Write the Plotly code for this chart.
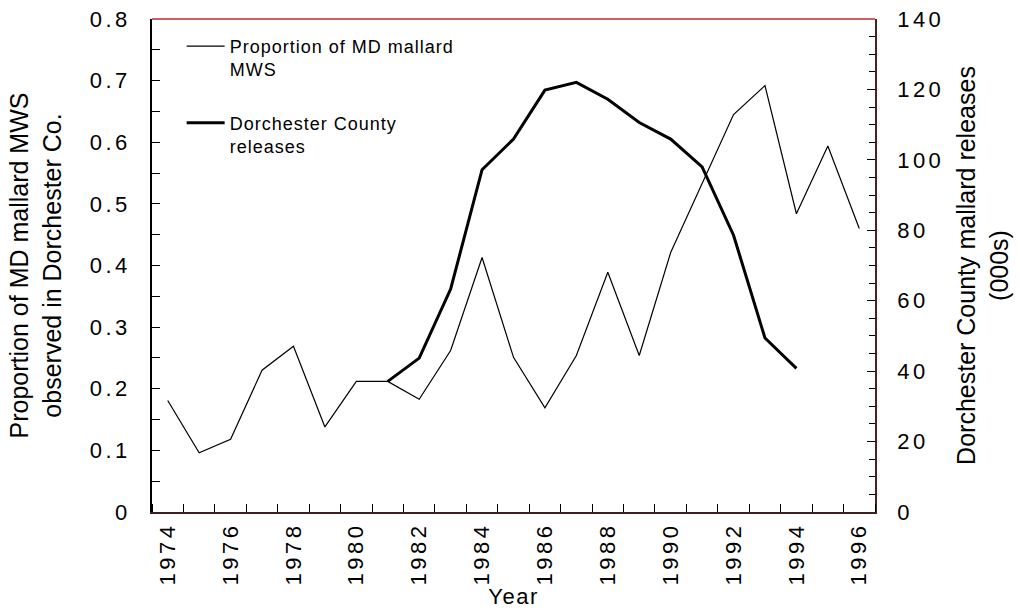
import plotly.graph_objects as go

years = list(range(1974, 1997))
proportion_mws = [0.181, 0.096, 0.118, 0.230, 0.269, 0.138, 0.212, 0.212, 0.183, 0.262,
                  0.413, 0.251, 0.169, 0.254, 0.389, 0.254, 0.421, 0.533, 0.645, 0.692,
                  0.484, 0.594, 0.460]
release_years = list(range(1981, 1995))
releases_000s = [37.1, 43.7, 63.3, 97.2, 105.9, 119.8, 122.0, 117.2, 110.6, 105.9,
                 98.0, 78.6, 49.4, 40.8]
year_labels = list(range(1974, 1997, 2))

FONT = "Liberation Sans, Arial, sans-serif"

fig = go.Figure()
fig.add_trace(go.Scatter(x=years, y=proportion_mws, mode="lines",
                         name="Proportion of MD mallard<br>MWS", legendgroup="a",
                         line=dict(color="black", width=1.2), yaxis="y"))
fig.add_trace(go.Scatter(x=release_years, y=releases_000s, mode="lines",
                         name="Dorchester County<br>releases", legendgroup="b",
                         line=dict(color="black", width=3), yaxis="y2"))

fig.update_layout(
    width=1020, height=613,
    margin=dict(l=152, r=145, t=19, b=101, autoexpand=False),
    paper_bgcolor="white", plot_bgcolor="white",
    font=dict(family=FONT, size=22, color="black"),
    showlegend=True,
    legend=dict(x=0.041, y=0.982, xanchor="left", yanchor="top",
                bgcolor="rgba(0,0,0,0)", valign="top",
                font=dict(family=FONT, size=18), tracegroupgap=27,
                itemwidth=38),
    xaxis=dict(range=[1973.5, 1996.5], tickmode="array", tickvals=year_labels,
               ticktext=[str(y) for y in year_labels], tickangle=-90,
               ticks="", showgrid=False, zeroline=False, automargin=False,
               showline=True, linecolor="#3a2020", linewidth=1.5,
               ticklabelstandoff=0,
               minor=dict(ticks="inside", tick0=1973.5, dtick=1, ticklen=8,
                          tickcolor="black", tickwidth=1.2, showgrid=False),
               title=dict(text="Year", font=dict(family=FONT, size=22), standoff=18),
               tickfont=dict(family=FONT, size=22)),
    yaxis=dict(range=[0, 0.8], dtick=0.1, ticks="inside", ticklen=8, tickwidth=1.2,
               tickcolor="black", showgrid=False, zeroline=False, automargin=False,
               showline=True, linecolor="black", linewidth=1.5,
               ticklabelstandoff=15,
               minor=dict(ticks="inside", dtick=0.05, ticklen=8, tickcolor="black",
                          tickwidth=1.2, showgrid=False),
               title=dict(text="Proportion of MD mallard MWS<br>observed in Dorchester Co.",
                          font=dict(family=FONT, size=25), standoff=32),
               tickfont=dict(family=FONT, size=22)),
    yaxis2=dict(range=[0, 140], dtick=20, ticks="inside", ticklen=8, tickwidth=1.2,
                tickcolor="black", overlaying="y", side="right", showgrid=False,
                zeroline=False, showline=True, linecolor="#4a2020", linewidth=1.5,
                ticklabelstandoff=16, automargin=False,
                minor=dict(ticks="inside", dtick=5, ticklen=6, tickcolor="black",
                           tickwidth=1.2, showgrid=False),
                title=dict(text="Dorchester County mallard releases<br>(000s)",
                           font=dict(family=FONT, size=25), standoff=25),
                tickfont=dict(family=FONT, size=22)),
    shapes=[dict(type="line", xref="x domain", yref="y domain", x0=0, x1=1, y0=1, y1=1,
                 line=dict(color="#c0282d", width=1.5))],
)

css = ("html, body { margin: 0; padding: 0; overflow: hidden; } "
       ".xtick text, .ytick text, .y2tick text { letter-spacing: 3.5px; } "
       ".legend .scrollbox { clip-path: none !important; } "
       ".legendtext { letter-spacing: 1px; } "
       ".g-xtitle text { letter-spacing: 1.5px; }")
post = ("var s=document.createElement('style');s.textContent=" + repr(css) +
        ";document.head.appendChild(s);")

fig.write_html("out.html", post_script=post, config={"displayModeBar": False})
